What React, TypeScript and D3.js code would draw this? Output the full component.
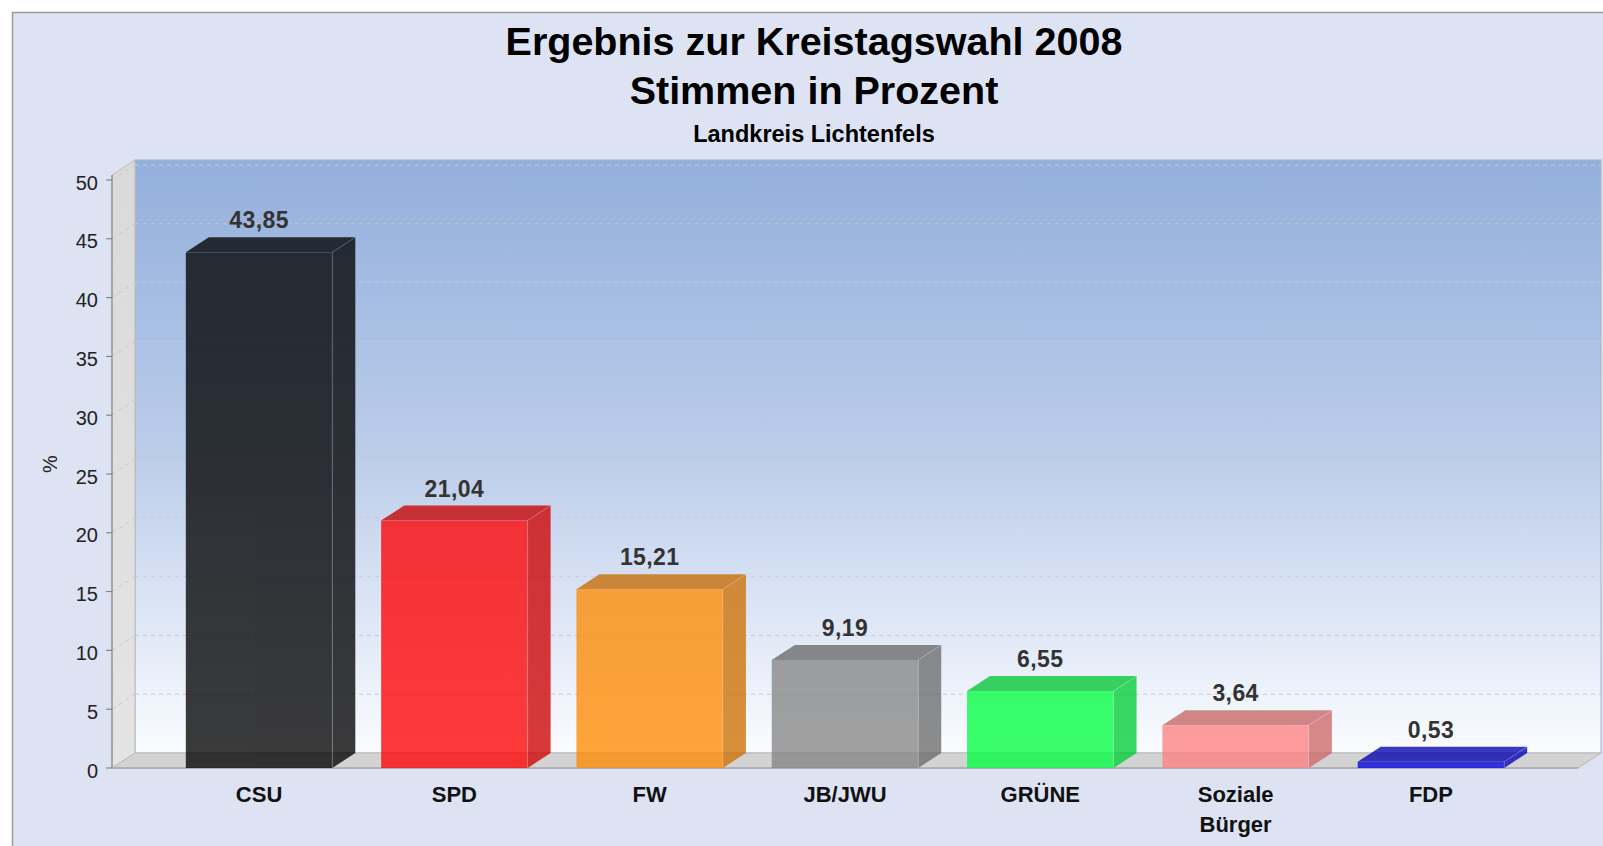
import React from "react";
import * as d3 from "d3";

const categories = ["CSU", "SPD", "FW", "JB/JWU", "GRÜNE", "Soziale Bürger", "FDP"];
const values = [43.85, 21.04, 15.21, 9.19, 6.55, 3.64, 0.53];
const barColors = ["#000000", "#ff0000", "#ff8a00", "#858585", "#00ff40", "#ff8080", "#0000e0"];
const yTicks = [0, 5, 10, 15, 20, 25, 30, 35, 40, 45, 50];
const titleLines = ["Ergebnis zur Kreistagswahl 2008", "Stimmen in Prozent"];
const subtitle = "Landkreis Lichtenfels";
const yAxisLabel = "%";

const W = 1603;
const H = 846;
const FONT = "'Liberation Sans', Arial, sans-serif";
const DX = 23;
const DY = 15;
const BAR_ALPHA = 0.77;

const deLocale = d3.formatLocale({ decimal: ",", thousands: ".", grouping: [3], currency: ["", " €"] });
const fmt = deLocale.format(".2f");

export default function App() {
  const x0 = 112;
  const x1 = 1578;
  const yFront0 = 768;
  const y = d3.scaleLinear().domain([0, 50]).range([yFront0, 180]);
  const x = d3.scaleBand<string>().domain(categories).range([x0, x1]).paddingInner(0.25).paddingOuter(0.378);
  const wallTop = y(50) - 5;

  const poly = (pts: [number, number][]) => pts.map((p) => p.join(",")).join(" ");

  return (
    <svg width={W} height={H} style={{ position: "absolute", left: 0, top: 0, display: "block" }} fontFamily={FONT}>
      <defs>
        <linearGradient id="backGrad" x1="0" y1="0" x2="0" y2="1">
          <stop offset="0" stopColor="#93afdc" />
          <stop offset="0.5" stopColor="#bccdea" />
          <stop offset="1" stopColor="#fafcff" />
        </linearGradient>
        <linearGradient id="leftGrad" x1="0" y1="0" x2="0" y2="1">
          <stop offset="0" stopColor="#dadada" />
          <stop offset="1" stopColor="#e4e4e4" />
        </linearGradient>
      </defs>
      <rect x={0} y={0} width={W} height={H} fill="#ffffff" />
      <rect x={12.5} y={12.5} width={1600} height={850} fill="#dde3f3" stroke="#9a9a9a" strokeWidth={1.5} />

      {/* titles */}
      <text x={814} y={55} textAnchor="middle" fontSize={39.5} fontWeight="bold" fill="#000">{titleLines[0]}</text>
      <text x={814} y={104} textAnchor="middle" fontSize={39.5} fontWeight="bold" fill="#000">{titleLines[1]}</text>
      <text x={814} y={142} textAnchor="middle" fontSize={23.5} fontWeight="bold" fill="#000">{subtitle}</text>

      {/* back wall */}
      <rect x={x0 + DX} y={wallTop - DY} width={x1 - x0} height={yFront0 - DY - (wallTop - DY)} fill="url(#backGrad)" stroke="#a8b4c8" strokeWidth={1} />
      {/* left wall */}
      <polygon points={poly([[x0, wallTop], [x0 + DX, wallTop - DY], [x0 + DX, yFront0 - DY], [x0, yFront0]])} fill="url(#leftGrad)" stroke="#bbbbbb" strokeWidth={1} />
      {/* floor */}
      <polygon points={poly([[x0, yFront0], [x0 + DX, yFront0 - DY], [x1 + DX, yFront0 - DY], [x1, yFront0]])} fill="#d3d3d3" stroke="#b8b8b8" strokeWidth={1} />

      {/* gridlines */}
      {yTicks.map((t) => (
        <g key={"g" + t}>
          <line x1={x0 + DX} x2={x1 + DX} y1={y(t) - DY} y2={y(t) - DY} stroke="#c6c9d0" strokeDasharray="4,4" strokeWidth={1} />
          <line x1={x0} x2={x0 + DX} y1={y(t)} y2={y(t) - DY} stroke="#c8c8c8" strokeDasharray="4,4" strokeWidth={1} />
        </g>
      ))}

      {/* axes */}
      <line x1={x0} x2={x0} y1={wallTop} y2={yFront0} stroke="#999" strokeWidth={1.5} />
      <line x1={x0} x2={x1} y1={yFront0} y2={yFront0} stroke="#aaa" strokeWidth={1.5} />
      {yTicks.map((t) => (
        <g key={"t" + t}>
          <line x1={x0 - 6} x2={x0} y1={y(t)} y2={y(t)} stroke="#777" strokeWidth={1} />
          <text x={98} y={y(t)} dy="0.48em" textAnchor="end" fontSize={20} fill="#222">{t}</text>
        </g>
      ))}
      <text transform={`translate(57,464) rotate(-90)`} textAnchor="middle" fontSize={20} fill="#222">{yAxisLabel}</text>

      {/* bars */}
      {categories.map((c, i) => {
        const bx = x(c)!;
        const bw = x.bandwidth();
        const top = y(values[i]);
        const base = barColors[i];
        const dark = d3.color(base)!.darker(0.6).formatHex();
        const darkTop = d3.color(base)!.darker(0.7).formatHex();
        return (
          <g key={c} opacity={BAR_ALPHA}>
            <polygon points={poly([[bx, top], [bx + DX, top - DY], [bx + bw + DX, top - DY], [bx + bw, top]])} fill={darkTop} />
            <polygon points={poly([[bx + bw, top], [bx + bw + DX, top - DY], [bx + bw + DX, yFront0 - DY], [bx + bw, yFront0]])} fill={dark} />
            <rect x={bx} y={top} width={bw} height={yFront0 - top} fill={base} />
            <line x1={bx + bw} x2={bx + bw} y1={top} y2={yFront0} stroke="#ffffff" strokeOpacity={0.18} />
            <line x1={bx + bw} x2={bx + bw + DX} y1={top} y2={top - DY} stroke="#ffffff" strokeOpacity={0.18} />
          </g>
        );
      })}

      {/* value labels */}
      {categories.map((c, i) => (
        <text key={"v" + c} x={x(c)! + x.bandwidth() / 2} y={y(values[i]) - DY - 9} textAnchor="middle" fontSize={23} letterSpacing={0.4} fontWeight="bold" fill="#333">
          {fmt(values[i])}
        </text>
      ))}

      {/* category labels */}
      {categories.map((c) => {
        const lines = c === "Soziale Bürger" ? c.split(" ") : [c];
        return (
          <text key={"c" + c} x={x(c)! + x.bandwidth() / 2} y={802} textAnchor="middle" fontSize={22} fontWeight="bold" fill="#111">
            {lines.map((l, k) => (
              <tspan key={k} x={x(c)! + x.bandwidth() / 2} dy={k === 0 ? 0 : 30}>{l}</tspan>
            ))}
          </text>
        );
      })}
    </svg>
  );
}
